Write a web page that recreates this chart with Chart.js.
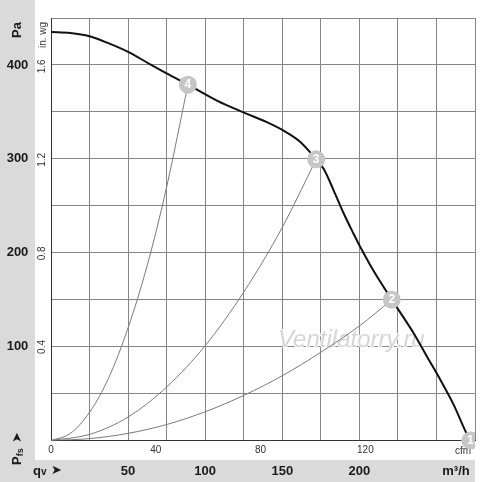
<!DOCTYPE html>
<html>
<head>
<meta charset="utf-8">
<script src="https://cdn.jsdelivr.net/npm/chart.js@4.4.1/dist/chart.umd.min.js"></script>
<style>
  html, body { margin: 0; padding: 0; background: #fff; }
  #wrap { width: 500px; height: 482px; position: relative; }
</style>
</head>
<body>
<div id="wrap"><canvas id="fanChart"></canvas></div>
<script>
// Fan curve (m³/h, Pa)
const fanFlow  = [0, 12.5, 25, 37.5, 50, 64, 75, 88.8, 107.6, 125.5, 140, 150.8, 161.7, 172, 177, 183.3, 189.8, 196.3, 200.6, 207, 213.6, 221, 235.3, 244, 252.6, 261.2, 268.8, 272];
const fanPress = [435, 434, 430.5, 423, 414, 401, 391, 379, 362, 349, 339, 330, 318, 299.5, 289, 266.5, 242, 220, 206, 187, 169, 150, 114, 89, 64.5, 38, 10, 0];

// System resistance curves
const sys4Flow  = [0, 12.5, 25, 37.5, 50, 62.5, 75, 88.8];
const sys4Press = [0, 7.5, 30, 67, 120, 187, 270, 379];
const sys3Flow  = [0, 25, 50, 75, 100, 125, 150, 172];
const sys3Press = [0, 6.5, 25, 57, 101, 158, 227, 299.5];
const sys2Flow  = [0, 25, 50, 75, 100, 125, 150, 175, 200, 221];
const sys2Press = [0, 2, 7.6, 17, 30.6, 48, 69, 94, 122, 150];

// Operating points
const opFlow   = [272, 221, 172, 88.8];
const opPress  = [0, 150, 299.5, 379];
const opLabels = ['1', '2', '3', '4'];

// Axis tick labels
const paTicks   = [100, 200, 300, 400];
const inwgTicks = [0.4, 0.8, 1.2, 1.6];
const cfmTicks  = [0, 40, 80, 120];
const m3hTicks  = [50, 100, 150, 200];

const PA_PER_INWG = 249.09;
const M3H_PER_CFM = 1.699;
const BAND = '#dadada';
const FONT = "'Liberation Sans', Arial, sans-serif";

const toXY = (xs, ys) => xs.map((x, i) => ({ x: x, y: ys[i] }));

const fanLabels = {
    id: 'fanLabels',
    beforeDraw(chart) {
        const ctx = chart.ctx;
        const area = chart.chartArea;
        ctx.save();
        ctx.fillStyle = '#ffffff';
        ctx.fillRect(0, 0, chart.width, chart.height);
        ctx.fillStyle = BAND;
        ctx.fillRect(0, 0, area.left - 16, chart.height);
        ctx.fillRect(0, area.bottom + 19.5, area.right, chart.height);
        ctx.restore();
    },
    beforeDatasetsDraw(chart) {
        const ctx = chart.ctx;
        const xs = chart.scales.x;
        const area = chart.chartArea;
        ctx.save();
        // watermark
        ctx.font = 'italic 24px ' + FONT;
        ctx.textAlign = 'left';
        ctx.textBaseline = 'alphabetic';
        ctx.lineWidth = 2;
        ctx.strokeStyle = 'rgba(255,255,255,0.9)';
        ctx.strokeText('Ventilatorry.ru', 278, 347);
        ctx.fillStyle = '#d6d6d6';
        ctx.fillText('Ventilatorry.ru', 278, 347);

        // cfm labels under the plot
        ctx.font = '10px ' + FONT;
        ctx.fillStyle = '#333';
        ctx.textAlign = 'center';
        ctx.textBaseline = 'middle';
        cfmTicks.forEach(v => {
            ctx.fillText(String(v), xs.getPixelForValue(v * M3H_PER_CFM), area.bottom + 10);
        });
        ctx.fillText('cfm', area.right - 12, area.bottom + 11);
        ctx.restore();
    },
    afterDatasetsDraw(chart) {
        const ctx = chart.ctx;
        const area = chart.chartArea;
        const meta = chart.getDatasetMeta(0);
        ctx.save();
        ctx.beginPath();
        ctx.rect(area.left - 12, area.top - 12, area.right - area.left + 12, area.bottom - area.top + 24);
        ctx.clip();
        ctx.font = 'bold 12px ' + FONT;
        ctx.fillStyle = '#ffffff';
        ctx.textAlign = 'center';
        ctx.textBaseline = 'middle';
        meta.data.forEach((pt, i) => {
            ctx.fillText(opLabels[i], pt.x, pt.y + 0.5);
        });
        ctx.restore();
    },
    afterDraw(chart) {
        const ctx = chart.ctx;
        const xs = chart.scales.x;
        const ys = chart.scales.y;
        const area = chart.chartArea;
        const bandX = (area.left - 16) / 2;
        const bandY = area.bottom + 30.5;
        ctx.save();
        ctx.fillStyle = '#1a1a1a';
        ctx.textBaseline = 'middle';

        // Pa labels
        ctx.font = 'bold 13px ' + FONT;
        ctx.textAlign = 'center';
        paTicks.forEach(v => ctx.fillText(String(v), bandX, ys.getPixelForValue(v)));

        ctx.save();
        ctx.translate(bandX, 30);
        ctx.rotate(-Math.PI / 2);
        ctx.fillText('Pa', 0, 0);
        ctx.restore();

        // in. wg labels
        ctx.font = '10px ' + FONT;
        ctx.fillStyle = '#333';
        inwgTicks.forEach(v => {
            ctx.save();
            ctx.translate(area.left - 9, ys.getPixelForValue(v * PA_PER_INWG));
            ctx.rotate(-Math.PI / 2);
            ctx.fillText(v.toFixed(1), 0, 0);
            ctx.restore();
        });
        ctx.save();
        ctx.translate(area.left - 8, 35);
        ctx.rotate(-Math.PI / 2);
        ctx.fillText('in. wg', 0, 0);
        ctx.restore();

        // Pfs label with arrow
        ctx.fillStyle = '#1a1a1a';
        ctx.save();
        ctx.translate(bandX, 465);
        ctx.rotate(-Math.PI / 2);
        ctx.textAlign = 'left';
        ctx.font = 'bold 13px ' + FONT;
        ctx.fillText('P', 0, 0);
        const pw = ctx.measureText('P').width;
        ctx.font = 'bold 9px ' + FONT;
        ctx.fillText('fs', pw, 3);
        ctx.font = '13px DejaVu Sans, sans-serif';
        ctx.fillText('\u27A4', 22, 0);
        ctx.restore();

        // qv / m³/h band
        ctx.font = 'bold 13px ' + FONT;
        ctx.textAlign = 'center';
        m3hTicks.forEach(v => ctx.fillText(String(v), xs.getPixelForValue(v), bandY));
        ctx.fillText('m\u00B3/h', area.right - 19, bandY);
        ctx.textAlign = 'left';
        ctx.fillText('q', 33, bandY);
        const qw = ctx.measureText('q').width;
        ctx.font = 'bold 10px ' + FONT;
        ctx.fillText('v', 33 + qw, bandY + 1);
        ctx.font = '13px DejaVu Sans, sans-serif';
        ctx.fillText('\u27A4', 51, bandY);
        ctx.restore();
    }
};

new Chart(document.getElementById('fanChart'), {
    type: 'line',
    data: {
        datasets: [
            {
                label: 'Operating points',
                data: toXY(opFlow, opPress),
                showLine: false,
                pointRadius: 9,
                pointHoverRadius: 9,
                pointBackgroundColor: '#c6c6c6',
                pointBorderColor: '#c6c6c6',
                pointBorderWidth: 0,
                clip: { left: 12, top: 12, right: 0, bottom: 12 }
            },
            {
                label: 'Fan curve',
                data: toXY(fanFlow, fanPress),
                borderColor: '#111',
                borderWidth: 2,
                pointRadius: 0,
                cubicInterpolationMode: 'monotone'
            },
            {
                label: 'System 4',
                data: toXY(sys4Flow, sys4Press),
                borderColor: '#7a7a7a',
                borderWidth: 1,
                pointRadius: 0,
                cubicInterpolationMode: 'monotone'
            },
            {
                label: 'System 3',
                data: toXY(sys3Flow, sys3Press),
                borderColor: '#7a7a7a',
                borderWidth: 1,
                pointRadius: 0,
                cubicInterpolationMode: 'monotone'
            },
            {
                label: 'System 2',
                data: toXY(sys2Flow, sys2Press),
                borderColor: '#7a7a7a',
                borderWidth: 1,
                pointRadius: 0,
                cubicInterpolationMode: 'monotone'
            }
        ]
    },
    options: {
        responsive: true,
        maintainAspectRatio: false,
        animation: false,
        layout: {
            padding: { left: 51, top: 18, right: 25, bottom: 41.5 }
        },
        plugins: {
            legend: { display: false },
            tooltip: { enabled: false }
        },
        scales: {
            x: {
                type: 'linear',
                min: 0,
                max: 275,
                ticks: { stepSize: 25, display: false },
                grid: { color: '#858585', lineWidth: 1, drawTicks: false },
                border: { color: '#333', width: 1 }
            },
            y: {
                type: 'linear',
                min: 0,
                max: 450,
                ticks: { stepSize: 50, display: false },
                grid: { color: '#858585', lineWidth: 1, drawTicks: false },
                border: { color: '#333', width: 1 }
            }
        }
    },
    plugins: [fanLabels]
});
</script>
</body>
</html>
